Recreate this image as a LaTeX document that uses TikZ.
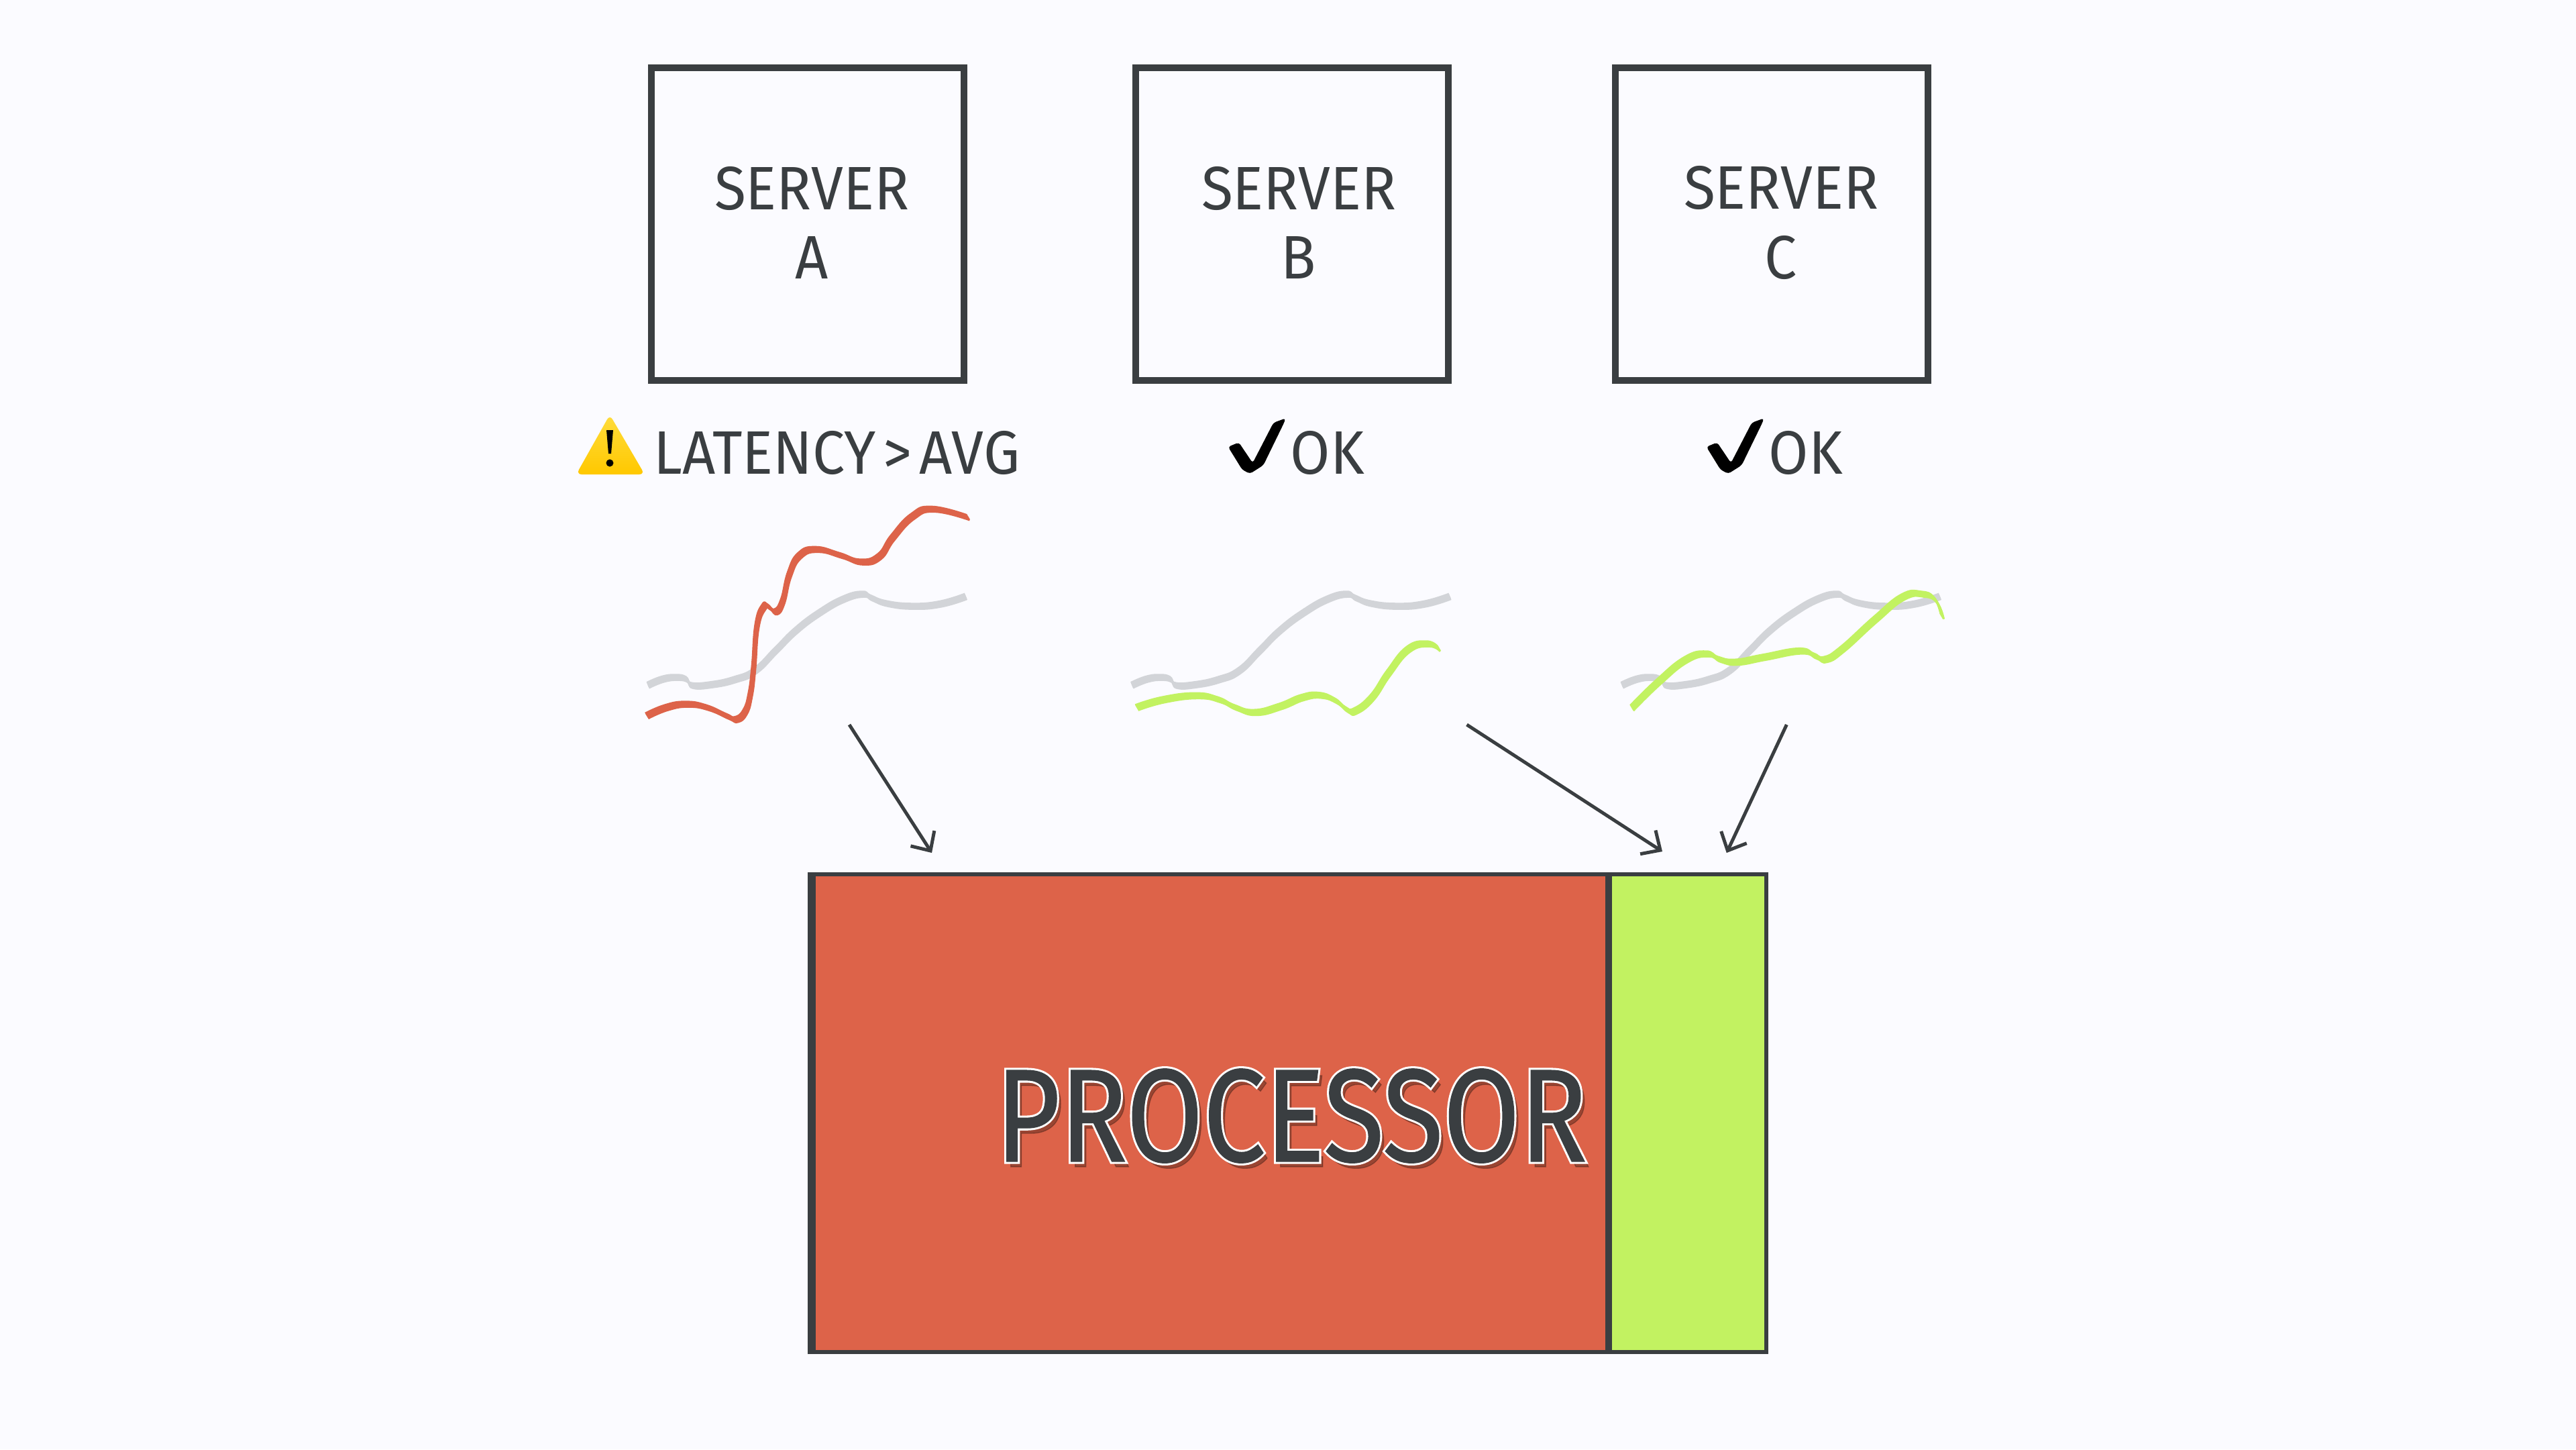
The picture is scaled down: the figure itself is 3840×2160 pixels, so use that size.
\documentclass[tikz,border=0pt]{standalone}
\usepackage{fontspec}
\usetikzlibrary{arrows.meta}
\newfontfamily\labelfont{Fira Sans}[FakeStretch=0.94]
\newfontfamily\statusfont{Fira Sans}[FakeStretch=0.94, WordSpace=0.7]
\newfontfamily\procfont{Fira Sans}[FakeStretch=0.84, FakeBold=0.7]
\newfontfamily\rimfont{Fira Sans}[FakeStretch=0.84, FakeBold=3.8]
\definecolor{bgcol}{HTML}{FBFBFF}
\definecolor{inkcol}{HTML}{3A3E41}
\definecolor{redcol}{HTML}{DD6349}
\definecolor{greencol}{HTML}{C2F261}
\definecolor{avgcol}{HTML}{D2D4D8}
\definecolor{warntop}{HTML}{FFDC3C}
\definecolor{warnbot}{HTML}{FFC800}
% curve with a slanted pen: the same path, shifted along the nib
\newcommand{\nibcurve}[4]{%
  \foreach \k in {-0.5,-0.4,...,0.5}
    \draw[#1, line width=0.3mm, line join=round, shift={(\k*#2,\k*#3)}]
      plot[smooth, tension=0.8] coordinates {#4};%
}
\newcommand{\avgcurve}[1]{%
  \begin{scope}[shift={(#1,0)}]
    \nibcurve{avgcol}{3.5}{8.5}{(966,1021.7) (988,1012.7) (1008.8,1010) (1024,1013) (1031.7,1022) (1059.8,1021) (1095.5,1013.3) (1126,1000) (1156.7,970) (1187,940) (1223,913) (1258.8,893) (1286.8,886) (1299.6,891.7) (1322.5,900) (1360.8,904) (1401.6,900.7) (1440,889.3)}
  \end{scope}%
}
\begin{document}
\begin{tikzpicture}[x=0.01cm, y=-0.01cm]
  % ================= styles =================
  \tikzset{
    serverbox/.style={draw=inkcol, line width=1mm, minimum size=4.65cm, inner sep=0pt},
    servertext/.style={text=inkcol, align=center, font=\labelfont\fontsize{26}{29.3}\selectfont},
    statustext/.style={text=inkcol, anchor=west, inner sep=0pt, font=\statusfont\fontsize{26}{29.3}\selectfont},
    procpart/.style={draw=inkcol, line width=0.6mm, minimum height=7.12cm, inner sep=0pt},
    proctext/.style={inner sep=0pt, font=\procfont\fontsize{56}{60}\selectfont},
    rimtext/.style={inner sep=0pt, font=\rimfont\fontsize{56}{60}\selectfont},
    feed/.style={draw=inkcol, line width=0.5mm, -{Straight Barb[length=2.2mm, width=4.2mm]}}
  }

  % ================= 1. canvas =================
  \fill[bgcol] (0,0) rectangle (3840,2160);
  \useasboundingbox (0,0) rectangle (3840,2160);

  % ================= 2. servers =================
  \node[serverbox] (serverA) at (1204,334) {};
  \node[serverbox] (serverB) at (1926,334) {};
  \node[serverbox] (serverC) at (2641,334) {};
  \node[servertext] (textA) at (1210,332) {SERVER\\A};
  \node[servertext] (textB) at (1936,332) {SERVER\\B};
  \node[servertext] (textC) at (2655,332) {SERVER\\C};

  % ================= 3. status lines =================
  \shade[top color=warntop, bottom color=warnbot, rounded corners=0.8mm]
    (909,618) -- (961,707) -- (859,707) -- cycle;
  \fill[black] (907,676) -- (904,641) -- (914,641) -- (911,676) -- cycle;
  \fill[black] (909,690) ellipse (5.5 and 5.5);
  \node[statustext] (statusA) at (974,675) {LATENCY > AVG};

  \foreach \dx/\name in {0/B,713/C} {
    \begin{scope}[shift={(\dx,0)}]
      \fill[black, rounded corners=0.4mm] (1830.7,666) -- (1846.7,659.3) -- (1867.3,690) -- (1898.3,630)
        -- (1916.7,623.3) -- (1913.3,631.7) -- (1883.3,693.3) -- (1863.3,706) -- (1851.7,700) -- cycle;
      \node[statustext] (status\name) at (1923,675) {OK};
    \end{scope}
  }

  % ================= 4. latency curves =================
  \foreach \dx in {0,721.6,1452} {\avgcurve{\dx}}

  \nibcurve{redcol}{5}{8.3}{(964.4,1067.3) (993.5,1055) (1024,1050) (1054.7,1055) (1085.3,1068.3) (1098,1072.7) (1110.8,1061.7) (1118.5,1036.7) (1123.6,996.7) (1128.7,933.3) (1138.9,905) (1146.5,905) (1156.7,912.3) (1167,896.7) (1177,856.7) (1192.4,828.3) (1218,819.3) (1253.7,828.3) (1284.3,838) (1311,830) (1331,801.7) (1360.8,770) (1391.4,759.3) (1443.5,771.7)}

  \nibcurve{greencol}{5}{8.5}{(1694.8,1055) (1734.6,1043.3) (1784.4,1037.3) (1817.5,1043.3) (1842.4,1055) (1871.4,1062.3) (1908.8,1053.3) (1941.9,1040) (1968.5,1036.7) (1991.7,1045) (2008.3,1058.3) (2020.7,1060) (2045.6,1040) (2070.4,1003.3) (2099.5,968.3) (2128.5,960) (2145,967.3)}

  \nibcurve{greencol}{5}{8.5}{(2432.8,1055.7) (2472.6,1016.7) (2514,983.3) (2545.6,975) (2563.8,983.3) (2588.7,987.3) (2630.1,980) (2684,970.7) (2706.4,978.3) (2721.4,983.3) (2746.2,968.3) (2796,923.3) (2837.4,890) (2866.5,886) (2885.6,895) (2895.5,919.3)}

  % ================= 5. processor =================
  \node[procpart, fill=redcol, minimum width=11.83cm] (procRed) at (1804.5,1659) {};
  \node[procpart, fill=greencol, minimum width=2.37cm] (procGreen) at (2514.5,1659) {};
  \draw[inkcol, line width=1.2mm] (procRed.north west) -- (procRed.south west);
  \draw[inkcol, line width=0.8mm] (procRed.north east) -- (procRed.south east);

  % label: shadow, then white rim, then ink
  \node[proctext, text=black!60!redcol, opacity=0.5] (procShadow) at (1931,1671) {PROCESSOR};
  \node[rimtext, text=white] (procRim) at (1925,1663) {PROCESSOR};
  \node[proctext, text=inkcol] (procLabel) at (1925,1663) {PROCESSOR};

  % ================= 6. arrows =================
  \coordinate (tailA) at (1266,1080);
  \coordinate (tailB) at (2186.5,1080);
  \coordinate (tailC) at (2663.3,1080);
  \coordinate (headA) at (1389,1271);
  \coordinate (headB) at (2478,1269);
  \coordinate (headC) at (2573.8,1271);
  \draw[feed] (tailA) -- (headA);
  \draw[feed] (tailB) -- (headB);
  \draw[feed] (tailC) -- (headC);
\end{tikzpicture}
\end{document}
